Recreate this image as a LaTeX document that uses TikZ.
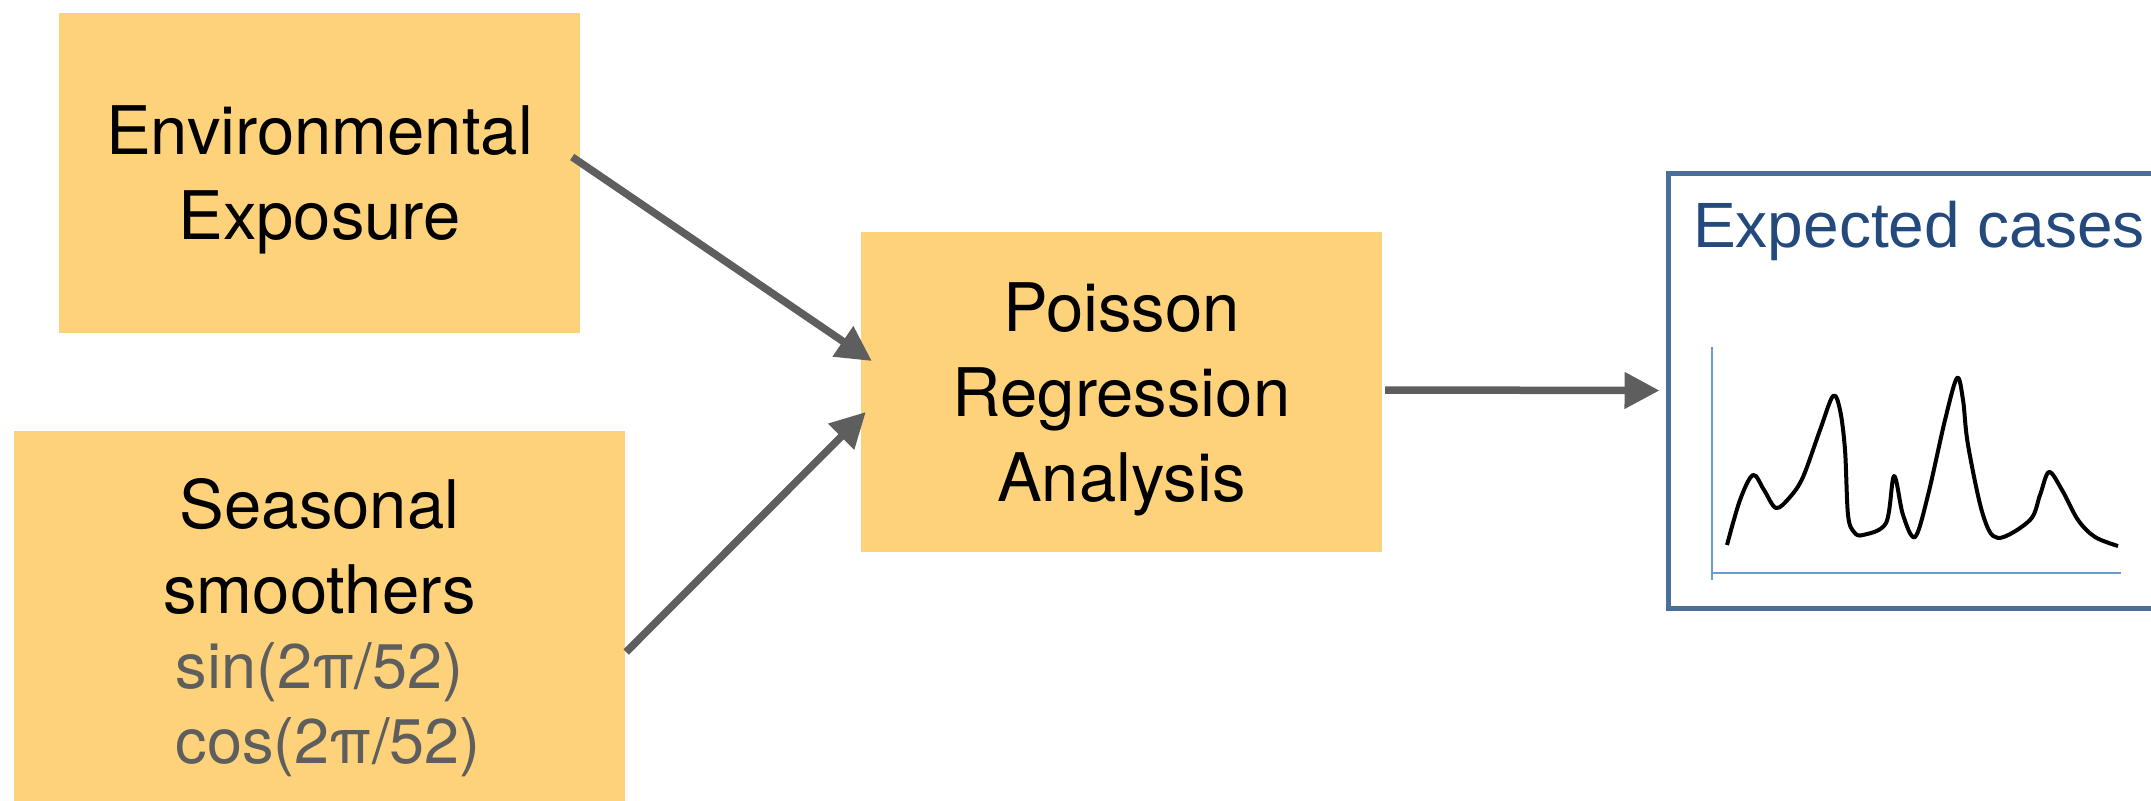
\documentclass[tikz,border=0pt]{standalone}
\usepackage{fontspec}
\setmainfont{TeX Gyre Heros}
\newfontfamily\titlefamily{Liberation Sans}
\usetikzlibrary{arrows.meta,calc}

\definecolor{boxyellow}{HTML}{FDD27A}
\definecolor{arrowgray}{HTML}{5E5E5E}
\definecolor{framebl}{HTML}{4A6F9B}
\definecolor{titlebl}{HTML}{23497D}
\definecolor{axisbl}{HTML}{6C9BD2}

\newcommand\labelfont{\fontsize{67pt}{85pt}\selectfont}
\newcommand\fmlfont{\fontsize{63pt}{85pt}\selectfont\color{arrowgray}}

\begin{document}
\begin{tikzpicture}[x=1pt,y=-1pt,
  stagebox/.style={fill=boxyellow, inner sep=0pt, align=center,
    text depth=0pt, font=\labelfont},
  flow/.style={draw=arrowgray, line width=7.5pt,
    -{Triangle[length=35pt,width=35pt]}},
  axisline/.style={draw=axisbl, line width=2.5pt},
  series/.style={draw=black, line width=4pt, line join=round}]

\clip (0,0) rectangle (2151,800);

% inputs and model
\node[stagebox, minimum width=521pt, minimum height=320pt] (env) at (319.5,173)
  {Environmental\\Exposure};
\node[stagebox, minimum width=611pt, minimum height=380pt] (season) at (319.5,621)
  {Seasonal\\smoothers\\[-10pt]\fmlfont sin(2π/52)\\[-10pt]\fmlfont\hspace*{0.28em}cos(2π/52)};
\node[stagebox, minimum width=521pt, minimum height=320pt] (model) at (1121.5,392)
  {Poisson\\Regression\\Analysis};

% output panel
\node[draw=framebl, line width=5pt, inner sep=0pt,
  minimum width=512pt, minimum height=435pt] (result) at (1924,390.5) {};
\node[anchor=base west, inner sep=0pt, text=titlebl,
  font=\titlefamily\fontsize{64pt}{70pt}\selectfont] (title) at (1693,247) {Expected cases};

% small time-series sketch
\coordinate (ytop) at (1712,347);
\coordinate (ybot) at (1712,580);
\coordinate (xleft) at (1712,573);
\coordinate (xright) at (2121,573);
\draw[axisline] (ytop) -- (ybot);
\draw[axisline] (xleft) -- (xright);
\draw[series] plot[smooth, tension=0.55] coordinates {
  (1727,545) (1740,500) (1753,475) (1764,490) (1776,508) (1790,497) (1803,477)
  (1820,430) (1833,396) (1840,410) (1845,450) (1848,515) (1854,532) (1863,535)
  (1886,523) (1894,476) (1903,515) (1915,537) (1928,495) (1945,420) (1957,378)
  (1963,400) (1968,445) (1983,515) (1998,538) (2030,520) (2040,495) (2049,472)
  (2062,490) (2078,520) (2095,537) (2118,546)};

% connectors
\draw[flow] ($(env.east)+(-8,-16)$) -- ($(model.west)+(11,-31)$);
\draw[flow] ($(season.east)+(1,31)$) -- ($(model.west)+(5,20)$);
\draw[flow] ($(model.east)+(3,-2)$) -- ($(result.west)+(-6,0)$);
\end{tikzpicture}
\end{document}
